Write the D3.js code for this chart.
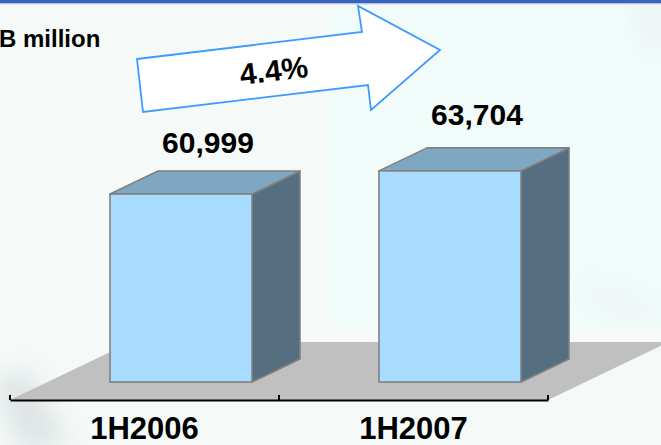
<!DOCTYPE html>
<html>
<head>
<meta charset="utf-8">
<script src="https://cdn.jsdelivr.net/npm/d3@7"></script>
<style>
  html, body { margin: 0; padding: 0; background: #f5faf9; }
  svg { display: block; }
</style>
</head>
<body>
<svg id="chart" width="661" height="445"></svg>
<script>
// ---- data ----
const categories = ["1H2006", "1H2007"];
const values = [60999, 63704];
const valueLabels = ["60,999", "63,704"];
const growthLabel = "4.4%";
const unitLabel = "B million";

// ---- layout ----
const W = 661, H = 445;
const svg = d3.select("#chart");
const font = "'Liberation Sans', Arial, Helvetica, sans-serif";

const defs = svg.append("defs");
const blur = defs.append("filter").attr("id", "blur").attr("x", "-50%").attr("y", "-50%").attr("width", "200%").attr("height", "200%");
blur.append("feGaussianBlur").attr("stdDeviation", 12);

// background
svg.append("rect").attr("width", W).attr("height", H).attr("fill", "#f5faf9");
svg.append("rect").attr("x", 330).attr("width", W - 330).attr("height", 330).attr("fill", "#f1fbf9");
// faint decorative smudges
svg.append("path").attr("d", "M-10,380 L30,370 L70,445 L20,450 Z").attr("fill", "#c9cfd0").attr("opacity", 0.5).attr("filter", "url(#blur)");
svg.append("path").attr("d", "M640,5 L661,0 L661,50 L648,45 Z").attr("fill", "#d6dbdb").attr("opacity", 0.35).attr("filter", "url(#blur)");
svg.append("path").attr("d", "M570,280 L640,300 L661,312 L620,315 Z").attr("fill", "#dde3e3").attr("opacity", 0.3).attr("filter", "url(#blur)");

// top band
svg.append("rect").attr("x", 0).attr("y", 0).attr("width", W).attr("height", 3.5).attr("fill", "#3a63c4");
svg.append("rect").attr("x", 0).attr("y", 3.5).attr("width", W).attr("height", 1).attr("fill", "#cfd6dc");

// scales
const axisY = 400;
const x = d3.scaleBand().domain(categories).range([10, 548]).paddingInner(0).paddingOuter(0);
const y = d3.scaleLinear().domain([39000, 65000]).range([382, 159.8]);

const frontOffset = 100, frontW = 142;
const ddx = 48, ddy = -23;        // bar depth
const floorDepthY = 58;            // floor depth in y
const floorDepthX = floorDepthY * ddx / -ddy;

// floor
const x0 = x.range()[0], x1 = x.range()[1];
svg.append("polygon")
  .attr("points", [[x0, axisY], [x1, axisY], [x1 + floorDepthX, axisY - floorDepthY], [x0 + floorDepthX, axisY - floorDepthY]].map(p => p.join(",")).join(" "))
  .attr("fill", "#c0c0c0");

// bars
const bars = svg.append("g").selectAll("g").data(categories.map((c, i) => ({ c, v: values[i], label: valueLabels[i] })))
  .join("g");

const stroke = "#808080", sw = 1.6;
bars.each(function(d) {
  const g = d3.select(this);
  const xl = x(d.c) + frontOffset, xr = xl + frontW;
  const yt = y(d.v), yb = y.range()[0];
  // side
  g.append("polygon")
    .attr("points", [[xr, yb], [xr + ddx, yb + ddy], [xr + ddx, yt + ddy], [xr, yt]].map(p => p.join(",")).join(" "))
    .attr("fill", "#566f80").attr("stroke", stroke).attr("stroke-width", sw).attr("stroke-linejoin", "round");
  // top
  g.append("polygon")
    .attr("points", [[xl, yt], [xr, yt], [xr + ddx, yt + ddy], [xl + ddx, yt + ddy]].map(p => p.join(",")).join(" "))
    .attr("fill", "#7fa7c2").attr("stroke", stroke).attr("stroke-width", sw).attr("stroke-linejoin", "round");
  // front
  g.append("rect")
    .attr("x", xl).attr("y", yt).attr("width", frontW).attr("height", yb - yt)
    .attr("fill", "#a8dcff").attr("stroke", stroke).attr("stroke-width", sw);
  // value label
  g.append("text")
    .attr("x", (xl + xr + ddx) / 2 + 3)
    .attr("y", yt + ddy - (d.v > 62000 ? 23 : 18))
    .attr("text-anchor", "middle")
    .attr("font-family", font).attr("font-weight", "bold").attr("font-size", 30)
    .attr("fill", "#000").text(d.label);
});

// axis
const axis = d3.axisBottom(x).tickSize(0).tickSizeOuter(0);
const ag = svg.append("g").attr("transform", `translate(0,${axisY})`).call(axis);
ag.select(".domain").attr("stroke", "#000").attr("stroke-width", 2.2);
ag.selectAll(".tick text")
  .attr("y", 39).attr("dy", 0)
  .attr("font-family", font).attr("font-weight", "bold").attr("font-size", 31).attr("fill", "#000");
// boundary tick marks (between categories)
const bounds = [x0, ...categories.slice(1).map(c => x(c)), x1];
ag.selectAll(".bnd").data(bounds).join("line").attr("class", "bnd")
  .attr("x1", d => d).attr("x2", d => d).attr("y1", 0).attr("y2", -5)
  .attr("stroke", "#000").attr("stroke-width", 2);

// growth arrow
const arrowPts = [[137, 59], [362, 32], [358, 6], [440, 50], [371, 110], [368, 85], [143, 112]];
svg.append("polygon")
  .attr("points", arrowPts.map(p => p.join(",")).join(" "))
  .attr("fill", "#ffffff").attr("stroke", "#3d9bff").attr("stroke-width", 1.8).attr("stroke-linejoin", "miter");
svg.append("text")
  .attr("transform", "translate(275,81) rotate(-6.8)")
  .attr("text-anchor", "middle")
  .attr("font-family", font).attr("font-weight", "bold").attr("font-size", 30)
  .attr("fill", "#000").text(growthLabel);

// unit label
svg.append("text")
  .attr("x", -1).attr("y", 47)
  .attr("font-family", font).attr("font-weight", "bold").attr("font-size", 24)
  .attr("fill", "#000").text(unitLabel);
</script>
</body>
</html>
